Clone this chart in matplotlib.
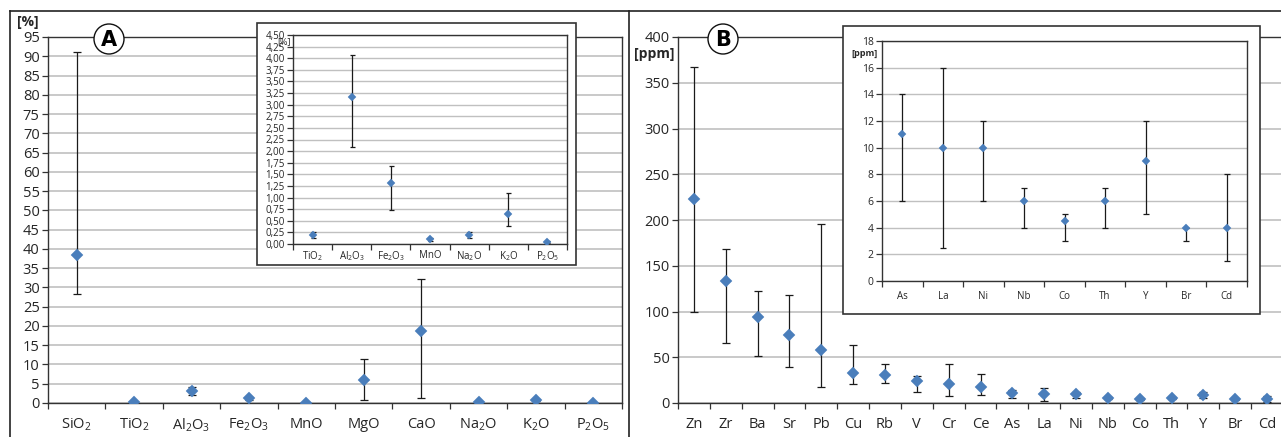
import matplotlib
matplotlib.use('Agg')
import matplotlib.pyplot as plt
from matplotlib.patches import Rectangle, Circle
from matplotlib.lines import Line2D
from matplotlib.transforms import IdentityTransform
from matplotlib.ticker import FixedLocator, FuncFormatter

plt.rcParams['font.family'] = ['Open Sans', 'DejaVu Sans']
plt.rcParams['mathtext.default'] = 'regular'

# oxides (panel A)
oxides = ['SiO$_2$', 'TiO$_2$', 'Al$_2$O$_3$', 'Fe$_2$O$_3$', 'MnO', 'MgO', 'CaO',
          'Na$_2$O', 'K$_2$O', 'P$_2$O$_5$']
ox_mean = [38.5, 0.19, 3.17, 1.32, 0.10, 6.0, 18.7, 0.20, 0.65, 0.04]
ox_min = [28.3, 0.12, 2.08, 0.73, 0.07, 0.8, 1.2, 0.13, 0.39, 0.02]
ox_max = [91.0, 0.25, 4.07, 1.68, 0.13, 11.3, 32.1, 0.25, 1.09, 0.06]
inset_ox = ['TiO$_2$', 'Al$_2$O$_3$', 'Fe$_2$O$_3$', 'MnO', 'Na$_2$O', 'K$_2$O', 'P$_2$O$_5$']

# trace elements (panel B)
elems = ['Zn', 'Zr', 'Ba', 'Sr', 'Pb', 'Cu', 'Rb', 'V', 'Cr', 'Ce',
         'As', 'La', 'Ni', 'Nb', 'Co', 'Th', 'Y', 'Br', 'Cd']
el_mean = [223, 133, 94, 74, 58, 33, 31, 24, 21, 17, 11, 10, 10, 6, 4.5, 6, 9, 4, 4]
el_min = [100, 66, 51, 39, 18, 21, 22, 12, 8, 9, 6, 2.5, 6, 4, 3, 4, 5, 3, 1.5]
el_max = [367, 168, 122, 118, 196, 63, 43, 30, 43, 32, 14, 16, 12, 7, 5, 7, 12, 4, 8]
inset_el = ['As', 'La', 'Ni', 'Nb', 'Co', 'Th', 'Y', 'Br', 'Cd']

W, H = 1281, 437
BLUE = '#4a7ebb'
GRID = '#c0c0c0'
TXT = '#262626'

fig = plt.figure(figsize=(W / 100, H / 100), dpi=100)


def box(l, t, r, b):
    return [l / W, 1 - b / H, (r - l) / W, (b - t) / H]


def pt(x, y):
    return x / W, 1 - y / H


def dot_plot(ax, names, mean, lo, hi, ymax, ystep, ms, cap, fs_x, fs_y, xpad, fmt=None):
    n = len(names)
    x = list(range(n))
    err = [[m - a for m, a in zip(mean, lo)], [b - m for m, b in zip(mean, hi)]]
    ax.errorbar(x, mean, yerr=err, fmt='none', ecolor='#1a1a1a', elinewidth=0.9,
                capsize=cap, capthick=0.9, zorder=3)
    ax.plot(x, mean, 'D', color=BLUE, ms=ms, mec=BLUE, mew=0.3, zorder=4)
    ax.set_xlim(-0.5, n - 0.5)
    ax.set_ylim(0, ymax)
    ticks = []
    v = 0.0
    while v <= ymax + 1e-9:
        ticks.append(round(v, 4))
        v += ystep
    ax.yaxis.set_major_locator(FixedLocator(ticks))
    if fmt:
        ax.yaxis.set_major_formatter(FuncFormatter(fmt))
    ax.set_xticks(x)
    ax.set_xticklabels(names)
    ax.xaxis.set_minor_locator(FixedLocator([i - 0.5 for i in range(n + 1)]))
    ax.tick_params(axis='x', which='major', length=0, pad=xpad, labelsize=fs_x, labelcolor=TXT)
    ax.tick_params(axis='x', which='minor', length=4, width=0.9, direction='out', color='#333333')
    ax.tick_params(axis='y', length=4, width=0.9, direction='out', pad=2,
                   labelsize=fs_y, labelcolor=TXT, color='#333333')
    ax.yaxis.grid(True, color=GRID, lw=1.2)
    ax.set_axisbelow(True)
    for s in ax.spines.values():
        s.set_color('#333333')
        s.set_linewidth(1.0)


# panel A main
axA = fig.add_axes(box(48, 37, 622, 403))
dot_plot(axA, oxides, ox_mean, ox_min, ox_max, 95, 5, 6.0, 2.6, 10.5, 10.5, 10)
fig.text(*pt(28, 22), '[%]', fontsize=10, fontweight='bold', ha='center', va='center', color=TXT)

# panel A inset
fig.add_artist(Rectangle(pt(257, 265), (576 - 257) / W, (265 - 23) / H, transform=fig.transFigure,
                         facecolor='white', edgecolor='#333333', lw=1.2, zorder=1))
subA = fig.add_axes(box(293, 35, 567, 244), zorder=2)
idx = [oxides.index(o) for o in inset_ox]
dot_plot(subA, inset_ox, [ox_mean[i] for i in idx], [ox_min[i] for i in idx],
         [ox_max[i] for i in idx], 4.5, 0.25, 3.6, 1.8, 7, 7, 4,
         fmt=lambda v, p: f'{v:.2f}'.replace('.', ','))
subA.yaxis.grid(True, color=GRID, lw=1.0)
fig.text(*pt(284, 42), '[%]', fontsize=6.5, ha='center', va='center', color=TXT, zorder=3)

# panel B main
axB = fig.add_axes(box(678, 37, 1283, 403))
dot_plot(axB, elems, el_mean, el_min, el_max, 400, 50, 6.2, 3.2, 10.5, 10.5, 10)
axB.spines['right'].set_visible(False)
fig.text(*pt(654, 54), '[ppm]', fontsize=10, fontweight='bold', ha='center', va='center', color=TXT)

# panel B inset
fig.add_artist(Rectangle(pt(843, 314), (1260 - 843) / W, (314 - 26) / H, transform=fig.transFigure,
                         facecolor='white', edgecolor='#333333', lw=1.2, zorder=1))
subB = fig.add_axes(box(882, 41, 1247, 281), zorder=2)
idx = [elems.index(e) for e in inset_el]
dot_plot(subB, inset_el, [el_mean[i] for i in idx], [el_min[i] for i in idx],
         [el_max[i] for i in idx], 18, 2, 4.2, 2.4, 7, 7.5, 7)
subB.yaxis.grid(True, color=GRID, lw=1.0)
fig.text(*pt(864, 53), '[ppm]', fontsize=6.5, fontweight='bold', ha='center', va='center',
         color=TXT, zorder=3)

# panel frame lines
for xs, ys in [([10, W], [11, 11]), ([10, 10], [11, H]), ([629, 629], [11, H])]:
    fig.add_artist(Line2D([x / W for x in xs], [1 - y / H for y in ys],
                          transform=fig.transFigure, color='#222222', lw=1.2, zorder=4))

# circled panel letters
for cx, cy, letter in [(109, 39, 'A'), (723, 39, 'B')]:
    fig.add_artist(Circle((cx, H - cy), 15, transform=IdentityTransform(),
                          facecolor='white', edgecolor='#111111', lw=1.0, zorder=4))
    fig.text(*pt(cx, cy + 1), letter, fontsize=15, fontweight='black', ha='center', va='center',
             color='black', family='DejaVu Sans', zorder=5)

fig.savefig('out.png', dpi=100)
